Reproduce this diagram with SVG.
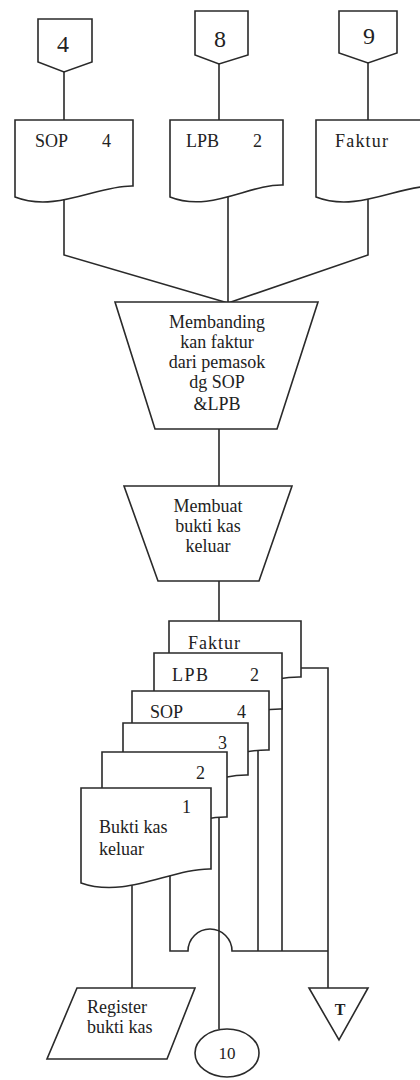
<svg xmlns="http://www.w3.org/2000/svg" width="420" height="1080" viewBox="0 0 420 1080">
<style>
.s{fill:#fff;stroke:#2a2a2a;stroke-width:1.6;stroke-linejoin:miter}
.c{fill:none;stroke:#2a2a2a;stroke-width:1.6}
text{font-family:"Liberation Serif","Times New Roman",serif;font-size:18px;fill:#222}
.m{text-anchor:middle}
.big{font-size:24px}
</style>
<rect width="420" height="1080" fill="#fff"/>
<g id="connectors">
<path class="c" d="M64,72V120M219,64V120M368,63V120"/>
<path class="c" d="M64,195V255L228,303M228,195V303M368,195V255L228,303"/>
<path class="c" d="M219,429V486M219,581V621"/>
<path class="c" d="M301,668H328V988"/>
<path class="c" d="M282,700V951M258,745V951"/>
<path class="c" d="M219,810V1029"/>
<path class="c" d="M170,870V951H188A22,22 0 0 1 232,951H328"/>
<path class="c" d="M132,880V988"/>
</g>
<g id="off4"><path class="s" d="M38,19H92V62L64,72L38,62Z"/><text class="m big" x="63" y="52">4</text></g>
<g id="off8"><path class="s" d="M195,11H248V55L219,64L195,55Z"/><text class="m big" x="220" y="47">8</text></g>
<g id="off9"><path class="s" d="M339,11H397V53L368,63L339,53Z"/><text class="m big" x="369" y="44">9</text></g>
<g id="docSOP"><path class="s" d="M15,120H133V186C98,185 56,213 15,197Z"/><text x="35" y="147">SOP</text><text x="102" y="147">4</text></g>
<g id="docLPB"><path class="s" d="M170,120H283V185C249,184 210,213 170,197Z"/><text x="186" y="147">LPB</text><text x="253" y="147">2</text></g>
<g id="docFaktur"><path class="s" d="M316,120H434V186C399,185 357,213 316,197Z"/><text x="335" y="147" textLength="53">Faktur</text></g>
<g id="proc1"><path class="s" d="M115,302H318L277,429H155Z"/>
<text class="m" x="217" y="328">Membanding</text><text class="m" x="217" y="348">kan faktur</text><text class="m" x="217" y="368">dari pemasok</text><text class="m" x="217" y="388">dg SOP</text><text class="m" x="217" y="410">&amp;LPB</text></g>
<g id="proc2"><path class="s" d="M124,486H292L259,581H158Z"/>
<text class="m" x="208" y="512">Membuat</text><text class="m" x="208" y="532">bukti kas</text><text class="m" x="208" y="552">keluar</text></g>
<g id="stackFaktur"><path class="s" d="M169,621H301V677C262,676 215,704 169,690Z"/><text x="188" y="649" textLength="52">Faktur</text></g>
<g id="stackLPB"><path class="s" d="M154,653H282V709C244,708 199,736 154,722Z"/><text x="172" y="681" textLength="36">LPB</text><text x="250" y="681">2</text></g>
<g id="stackSOP"><path class="s" d="M132,691H269V750C228,749 180,777 132,763Z"/><text x="150" y="718">SOP</text><text x="237" y="718">4</text></g>
<g id="copy3"><path class="s" d="M123,723H248V775C211,774 167,802 123,788Z"/><text x="218" y="749">3</text></g>
<g id="copy2"><path class="s" d="M102,752H227V817C190,816 146,844 102,830Z"/><text x="196" y="779">2</text></g>
<g id="copy1"><path class="s" d="M81,788H211V869C172,868 126,899 81,883Z"/><text x="182" y="813">1</text><text x="99" y="833">Bukti kas</text><text x="99" y="855">keluar</text></g>
<g id="register"><path class="s" d="M77,988H195L167,1059H47Z"/><text x="87" y="1013">Register</text><text x="87" y="1033">bukti kas</text></g>
<g id="conn10"><ellipse class="s" cx="227" cy="1053" rx="32" ry="24"/><text class="m" x="227" y="1059" style="font-size:17px">10</text></g>
<g id="fileT"><path class="s" d="M309,988H368L339,1040Z"/><text class="m" x="340" y="1015" style="font-size:16px;font-weight:bold">T</text></g>
</svg>
